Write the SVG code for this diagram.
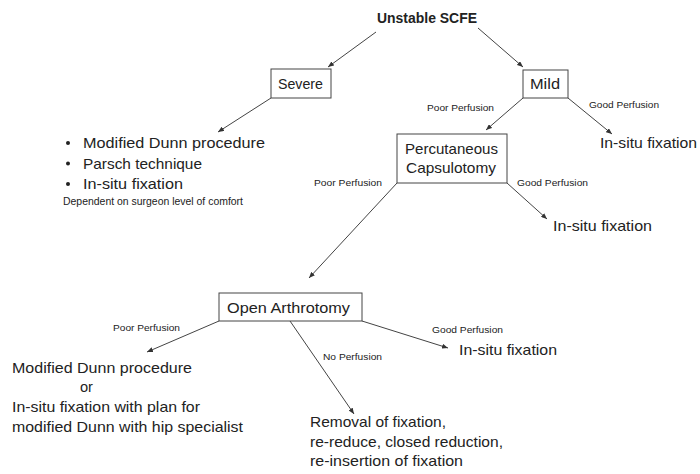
<svg xmlns="http://www.w3.org/2000/svg" width="700" height="474" viewBox="0 0 700 474">
<defs>
<marker id="ah" markerUnits="userSpaceOnUse" markerWidth="7" markerHeight="5" refX="6" refY="2.5" orient="auto">
<path d="M0,0 L6,2.5 L0,5 z" fill="#333"/>
</marker>
<style>
text{font-family:"Liberation Sans",Arial,sans-serif;fill:#222;}
.t{font-size:14.8px;}
.b{font-size:14px;font-weight:bold;}
.s{font-size:9.5px;}
.d{font-size:10px;}
rect{fill:#fff;stroke:#444;stroke-width:1;}
#connectors line{stroke:#444;stroke-width:1;marker-end:url(#ah);}
</style>
</defs>
<rect x="0" y="0" width="700" height="474" style="stroke:none"/>
<g id="connectors">
<line x1="376" y1="32" x2="328" y2="67"/>
<line x1="478" y1="28" x2="523" y2="67"/>
<line x1="271" y1="98" x2="218" y2="132"/>
<line x1="523" y1="98" x2="486" y2="130"/>
<line x1="568" y1="98" x2="612" y2="134"/>
<line x1="507" y1="183" x2="547" y2="219"/>
<line x1="397" y1="183" x2="309" y2="278"/>
<line x1="219" y1="321" x2="147" y2="352"/>
<line x1="362" y1="321" x2="448" y2="348"/>
<line x1="290" y1="321" x2="354" y2="414"/>
</g>
<g id="edge-labels">
<text class="s" x="427" y="111" textLength="67" lengthAdjust="spacingAndGlyphs">Poor Perfusion</text>
<text class="s" x="589" y="108" textLength="70" lengthAdjust="spacingAndGlyphs">Good Perfusion</text>
<text class="s" x="517" y="186" textLength="71" lengthAdjust="spacingAndGlyphs">Good Perfusion</text>
<text class="s" x="314" y="186" textLength="68" lengthAdjust="spacingAndGlyphs">Poor Perfusion</text>
<text class="s" x="113" y="331" textLength="67" lengthAdjust="spacingAndGlyphs">Poor Perfusion</text>
<text class="s" x="432" y="333" textLength="71" lengthAdjust="spacingAndGlyphs">Good Perfusion</text>
<text class="s" x="323" y="360" textLength="59" lengthAdjust="spacingAndGlyphs">No Perfusion</text>
</g>
<g id="root">
<text class="b" x="377" y="23" textLength="100" lengthAdjust="spacingAndGlyphs">Unstable SCFE</text>
</g>
<g id="severe">
<rect x="271" y="69" width="60" height="29"/>
<text class="t" x="278" y="89" textLength="45" lengthAdjust="spacingAndGlyphs">Severe</text>
</g>
<g id="mild">
<rect x="523" y="70" width="45" height="28"/>
<text class="t" x="530" y="89" textLength="30" lengthAdjust="spacingAndGlyphs">Mild</text>
</g>
<g id="severe-options">
<circle cx="68" cy="143" r="2" fill="#222"/>
<circle cx="68" cy="163.5" r="2" fill="#222"/>
<circle cx="68" cy="184" r="2" fill="#222"/>
<text class="t" x="83" y="148" textLength="182" lengthAdjust="spacingAndGlyphs">Modified Dunn procedure</text>
<text class="t" x="83" y="168.5" textLength="119" lengthAdjust="spacingAndGlyphs">Parsch technique</text>
<text class="t" x="83" y="189" textLength="100" lengthAdjust="spacingAndGlyphs">In-situ fixation</text>
<text class="d" x="63" y="205" textLength="180" lengthAdjust="spacingAndGlyphs">Dependent on surgeon level of comfort</text>
</g>
<g id="mild-insitu">
<text class="t" x="600" y="148" textLength="97" lengthAdjust="spacingAndGlyphs">In-situ fixation</text>
</g>
<g id="percutaneous">
<rect x="397" y="134" width="110" height="49"/>
<text class="t" x="405" y="154" textLength="93" lengthAdjust="spacingAndGlyphs">Percutaneous</text>
<text class="t" x="406" y="173" textLength="90" lengthAdjust="spacingAndGlyphs">Capsulotomy</text>
</g>
<g id="perc-insitu">
<text class="t" x="553" y="231" textLength="99" lengthAdjust="spacingAndGlyphs">In-situ fixation</text>
</g>
<g id="open-arthrotomy">
<rect x="219" y="293" width="143" height="28"/>
<text class="t" x="227" y="313" textLength="123" lengthAdjust="spacingAndGlyphs">Open Arthrotomy</text>
</g>
<g id="oa-insitu">
<text class="t" x="459" y="355" textLength="98" lengthAdjust="spacingAndGlyphs">In-situ fixation</text>
</g>
<g id="oa-poor">
<text class="t" x="12" y="373" textLength="180" lengthAdjust="spacingAndGlyphs">Modified Dunn procedure</text>
<text class="t" x="80" y="392" textLength="13" lengthAdjust="spacingAndGlyphs">or</text>
<text class="t" x="12" y="412" textLength="188" lengthAdjust="spacingAndGlyphs">In-situ fixation with plan for</text>
<text class="t" x="12" y="432" textLength="231" lengthAdjust="spacingAndGlyphs">modified Dunn with hip specialist</text>
</g>
<g id="oa-none">
<text class="t" x="310" y="427" textLength="136" lengthAdjust="spacingAndGlyphs">Removal of fixation,</text>
<text class="t" x="310" y="446.5" textLength="193" lengthAdjust="spacingAndGlyphs">re-reduce, closed reduction,</text>
<text class="t" x="310" y="466" textLength="153" lengthAdjust="spacingAndGlyphs">re-insertion of fixation</text>
</g>
</svg>
